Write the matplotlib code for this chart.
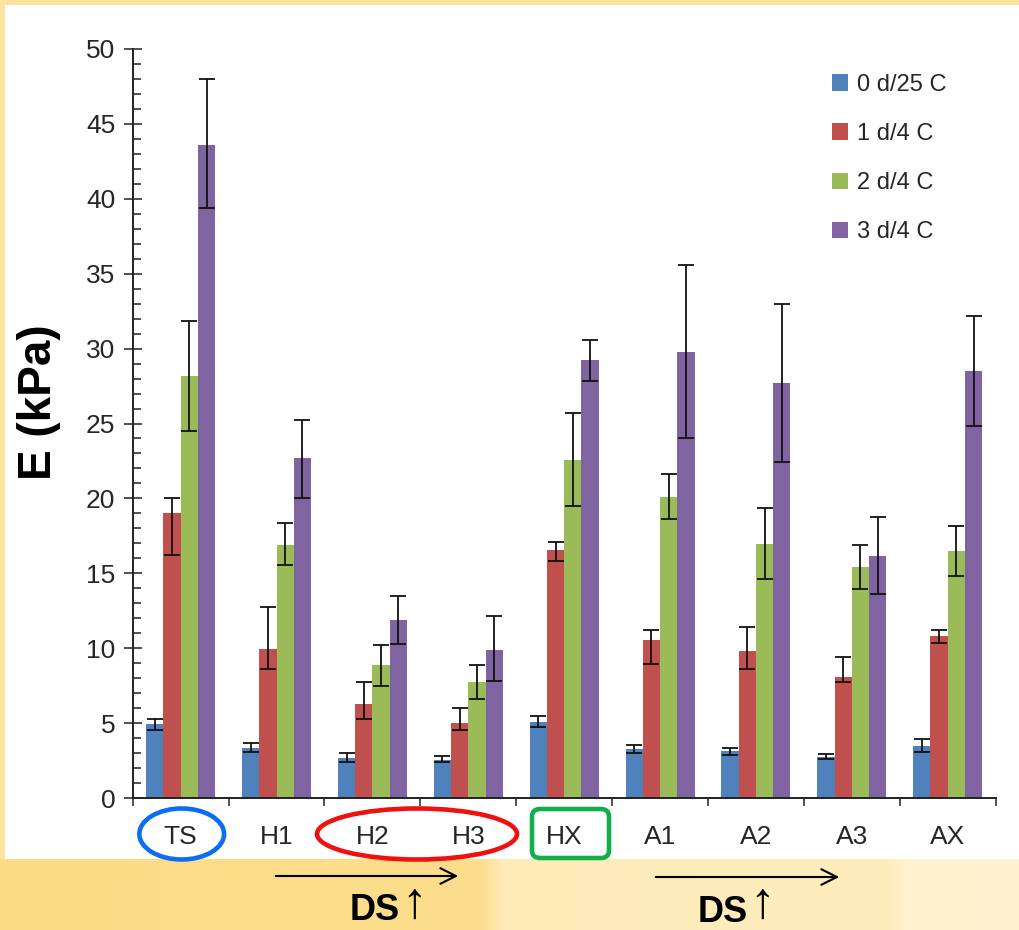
import numpy as np
import matplotlib
matplotlib.use('Agg')
import matplotlib.pyplot as plt
import matplotlib.patches as patches

plt.rcParams['font.family'] = ['Liberation Sans', 'DejaVu Sans']

# data
categories = ['TS', 'H1', 'H2', 'H3', 'HX', 'A1', 'A2', 'A3', 'AX']
series_names = ['0 d/25 C', '1 d/4 C', '2 d/4 C', '3 d/4 C']
series_colors = ['#4F81BD', '#C0504D', '#9BBB59', '#8064A2']

e_0d25 = [4.93, 3.33, 2.69, 2.58, 5.11, 3.31, 3.15, 2.77, 3.50]
e_1d4 = [19.0, 9.98, 6.31, 5.04, 16.57, 10.54, 9.84, 8.10, 10.82]
e_2d4 = [28.16, 16.91, 8.91, 7.73, 22.54, 20.12, 16.95, 15.40, 16.50]
e_3d4 = [43.6, 22.67, 11.87, 9.91, 29.23, 29.77, 27.70, 16.15, 28.50]

# lower / upper error bar lengths
lo_0d25 = [0.37, 0.22, 0.29, 0.18, 0.38, 0.31, 0.24, 0.12, 0.40]
hi_0d25 = [0.36, 0.34, 0.35, 0.26, 0.35, 0.26, 0.23, 0.16, 0.44]
lo_1d4 = [2.76, 1.38, 1.02, 0.48, 0.75, 1.57, 1.22, 0.31, 0.49]
hi_1d4 = [1.04, 2.78, 1.42, 0.96, 0.54, 0.70, 1.57, 1.34, 0.42]
lo_2d4 = [3.63, 1.38, 1.40, 1.11, 3.04, 1.50, 2.30, 1.46, 1.66]
hi_2d4 = [3.66, 1.42, 1.33, 1.16, 3.16, 1.50, 2.39, 1.52, 1.67]
lo_3d4 = [4.25, 2.65, 1.56, 2.11, 1.39, 5.73, 5.26, 2.49, 3.64]
hi_3d4 = [4.37, 2.57, 1.60, 2.22, 1.31, 5.77, 5.28, 2.58, 3.68]

values = [e_0d25, e_1d4, e_2d4, e_3d4]
err_lo = [lo_0d25, lo_1d4, lo_2d4, lo_3d4]
err_hi = [hi_0d25, hi_1d4, hi_2d4, hi_3d4]

W, H = 1019, 930
fig = plt.figure(figsize=(W / 100, H / 100), dpi=100)
fig.patch.set_facecolor('#FDE39C')


def px(x, y):
    # pixel (from top left) -> figure fraction
    return x / W, 1 - y / H


# white slide area
x0, y0 = px(5, 859)
fig.patches.append(patches.Rectangle((x0, y0), 1 - x0, 1 - 5 / H - y0,
                                     transform=fig.transFigure, facecolor='white',
                                     edgecolor='none', zorder=-3))

# bottom band with a soft left-to-right shading
band = fig.add_axes([0, 0, 1, 71 / H], zorder=-2)
stops_x = [0, 480, 505, 890, 905, 1019]
stops_c = [(252, 219, 132), (253, 222, 140), (254, 235, 184), (254, 237, 190),
           (254, 241, 205), (254, 242, 208)]
xs = np.arange(W)
grad = np.zeros((1, W, 3))
for k in range(3):
    grad[0, :, k] = np.interp(xs, stops_x, [c[k] for c in stops_c]) / 255
band.imshow(grad, aspect='auto', extent=(0, W, 0, 1))
band.axis('off')

# main chart
left, top = px(132.7, 48.7)
right, bottom = px(995.7, 798.3)
ax = fig.add_axes([left, bottom, right - left, top - bottom], zorder=1)
ax.set_facecolor('none')

x = np.arange(len(categories))
bw = 0.18
for i in range(4):
    pos = x + (i - 1.5) * bw
    ax.bar(pos, values[i], bw, color=series_colors[i], edgecolor='none',
           label=series_names[i], zorder=2)
    ax.errorbar(pos, values[i], yerr=[err_lo[i], err_hi[i]], fmt='none',
                ecolor='#111111', elinewidth=1.3, capsize=6, capthick=1.3, zorder=3)

ax.set_xlim(-0.5, len(categories) - 0.5)
ax.set_ylim(0, 50)
ax.spines['top'].set_visible(False)
ax.spines['right'].set_visible(False)
for s in ['left', 'bottom']:
    ax.spines[s].set_linewidth(1.4)
    ax.spines[s].set_color('#222222')

ax.set_yticks(np.arange(0, 51, 5))
ax.set_yticks(np.arange(0, 51, 1), minor=True)
ax.tick_params(axis='y', which='major', direction='inout', length=13, width=1.1,
               labelsize=19, labelcolor='#262626', pad=6, color='#222222')
ax.tick_params(axis='y', which='minor', direction='in', length=6, width=1.1,
               color='#222222')

ax.set_xticks(np.arange(-0.5, len(categories), 1))
ax.set_xticklabels([])
ax.set_xticks(x, minor=True)
ax.set_xticklabels(categories, minor=True)
ax.tick_params(axis='x', which='major', direction='out', length=6, width=1.1,
               color='#222222')
ax.tick_params(axis='x', which='minor', length=0, labelsize=19,
               labelcolor='#262626', pad=19)

fig.text(*px(39, 402), 'E (kPa)', rotation=90, ha='center', va='center',
         fontsize=33, fontweight='bold', color='black')

lx, ly = px(820, 62)
ax.legend(loc='upper left', bbox_to_anchor=(lx, ly), bbox_transform=fig.transFigure,
          frameon=False, fontsize=17, handlelength=0.7, handleheight=0.7,
          handletextpad=0.35, labelspacing=1.15, borderpad=0, labelcolor='#262626')

# annotations below the axis
lw_mark = 3.3
cx, cy = px(181.7, 834)
fig.patches.append(patches.Ellipse((cx, cy), 84.7 / W, 51 / H, transform=fig.transFigure,
                                   fill=False, edgecolor='#0A6EF2', linewidth=lw_mark,
                                   zorder=3))
cx, cy = px(417, 834)
fig.patches.append(patches.Ellipse((cx, cy), 200 / W, 51 / H, transform=fig.transFigure,
                                   fill=False, edgecolor='#F01010', linewidth=lw_mark,
                                   zorder=3))
gx, gy = px(532, 858)
fig.patches.append(patches.FancyBboxPatch((gx, gy), 77 / W, 49 / H,
                                          boxstyle='round,pad=0,rounding_size=0.008',
                                          transform=fig.transFigure, fill=False,
                                          edgecolor='#12AE4C', linewidth=lw_mark,
                                          zorder=3))

for xa, xb, yy in [(273, 461, 876), (653, 842, 877)]:
    fig.add_artist(patches.FancyArrowPatch(px(xa, yy), px(xb, yy), transform=fig.transFigure,
                                           arrowstyle='->', mutation_scale=28,
                                           linewidth=1.5, color='black', zorder=3))

for xd, yd in [(375, 910), (723, 912)]:
    fig.text(*px(xd, yd), 'DS', ha='center', va='center', fontsize=26,
             fontweight='bold', color='black', zorder=3)
    fig.text(*px(xd + 39, 929), '\u2191', ha='center', va='bottom', fontsize=37,
             family=['Liberation Sans', 'DejaVu Sans'], color='black', zorder=3)

plt.savefig('out.png', dpi=100, facecolor=fig.get_facecolor())
